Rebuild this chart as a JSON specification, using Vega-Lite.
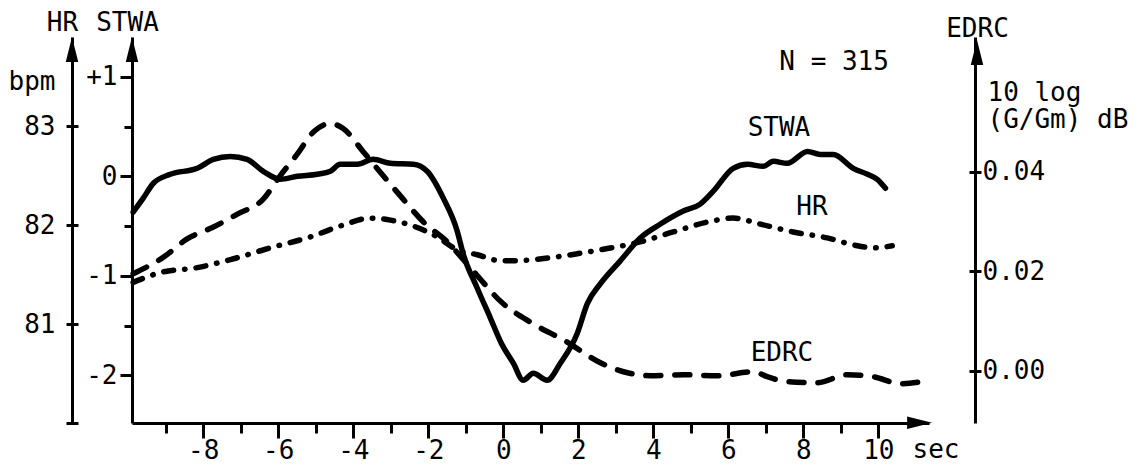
{
  "$schema": "https://vega.github.io/schema/vega-lite/v6.json",
  "width": 797,
  "height": 386,
  "autosize": {"type": "none"},
  "padding": {"left": 132, "top": 37, "right": 212, "bottom": 45},
  "background": "white",
  "config": {
    "view": {"stroke": null},
    "font": "DejaVu Sans Mono",
    "axis": {
      "grid": false,
      "domainColor": "black",
      "domainWidth": 3,
      "tickColor": "black",
      "tickWidth": 3,
      "labelColor": "black",
      "labelFont": "DejaVu Sans Mono",
      "labelFontSize": 26,
      "titleFont": "DejaVu Sans Mono",
      "titleFontSize": 26,
      "titleFontWeight": "normal",
      "titleColor": "black",
      "labelFlush": false,
      "labelOverlap": false
    }
  },
  "datasets": {
    "stwa": [
      {"t": -9.87, "v": -0.36}, {"t": -9.6, "v": -0.22}, {"t": -9.33, "v": -0.07}, {"t": -8.88, "v": 0.02},
      {"t": -8.16, "v": 0.08}, {"t": -7.73, "v": 0.17}, {"t": -7.28, "v": 0.2}, {"t": -6.83, "v": 0.17},
      {"t": -6.4, "v": 0.05}, {"t": -5.95, "v": -0.03}, {"t": -5.49, "v": 0.0}, {"t": -4.96, "v": 0.02},
      {"t": -4.61, "v": 0.05}, {"t": -4.35, "v": 0.12}, {"t": -3.89, "v": 0.12}, {"t": -3.47, "v": 0.17},
      {"t": -3.01, "v": 0.13}, {"t": -2.4, "v": 0.12}, {"t": -2.03, "v": 0.05}, {"t": -1.6, "v": -0.22},
      {"t": -1.23, "v": -0.55}, {"t": -1.07, "v": -0.78}, {"t": -0.7, "v": -1.12}, {"t": -0.35, "v": -1.42},
      {"t": -0.05, "v": -1.68}, {"t": 0.27, "v": -1.88}, {"t": 0.53, "v": -2.05}, {"t": 0.8, "v": -1.98},
      {"t": 1.17, "v": -2.05}, {"t": 1.52, "v": -1.88}, {"t": 1.97, "v": -1.58}, {"t": 2.24, "v": -1.28},
      {"t": 2.59, "v": -1.08}, {"t": 3.12, "v": -0.85}, {"t": 3.65, "v": -0.62}, {"t": 4.19, "v": -0.48},
      {"t": 4.8, "v": -0.35}, {"t": 5.25, "v": -0.28}, {"t": 5.6, "v": -0.15}, {"t": 6.13, "v": 0.08},
      {"t": 6.51, "v": 0.12}, {"t": 6.93, "v": 0.1}, {"t": 7.2, "v": 0.15}, {"t": 7.57, "v": 0.13},
      {"t": 8.11, "v": 0.25}, {"t": 8.45, "v": 0.22}, {"t": 8.8, "v": 0.22}, {"t": 9.33, "v": 0.08},
      {"t": 9.71, "v": 0.02}, {"t": 9.97, "v": -0.03}, {"t": 10.19, "v": -0.12}
    ],
    "hr": [
      {"t": -9.87, "v": 81.42}, {"t": -9.15, "v": 81.52}, {"t": -8.16, "v": 81.57}, {"t": -7.28, "v": 81.65},
      {"t": -6.21, "v": 81.77}, {"t": -5.15, "v": 81.88}, {"t": -4.27, "v": 82.0}, {"t": -3.55, "v": 82.07},
      {"t": -3.01, "v": 82.05}, {"t": -2.4, "v": 81.99}, {"t": -1.76, "v": 81.88}, {"t": -1.23, "v": 81.75},
      {"t": -0.69, "v": 81.7}, {"t": -0.08, "v": 81.64}, {"t": 0.27, "v": 81.64}, {"t": 1.25, "v": 81.67},
      {"t": 1.97, "v": 81.71}, {"t": 2.59, "v": 81.75}, {"t": 3.65, "v": 81.83}, {"t": 4.53, "v": 81.93},
      {"t": 5.44, "v": 82.03}, {"t": 6.13, "v": 82.07}, {"t": 6.85, "v": 82.01}, {"t": 7.73, "v": 81.93},
      {"t": 8.64, "v": 81.87}, {"t": 9.33, "v": 81.8}, {"t": 9.87, "v": 81.77}, {"t": 10.37, "v": 81.79}
    ],
    "edrc": [
      {"t": -9.87, "v": 0.0195}, {"t": -9.07, "v": 0.0228}, {"t": -8.43, "v": 0.0265}, {"t": -7.73, "v": 0.0289},
      {"t": -7.09, "v": 0.0315}, {"t": -6.4, "v": 0.0345}, {"t": -5.95, "v": 0.0392}, {"t": -5.49, "v": 0.0436},
      {"t": -5.05, "v": 0.0481}, {"t": -4.61, "v": 0.0497}, {"t": -4.27, "v": 0.0487}, {"t": -3.73, "v": 0.044},
      {"t": -3.2, "v": 0.0392}, {"t": -2.67, "v": 0.0345}, {"t": -2.13, "v": 0.0299}, {"t": -1.49, "v": 0.0259},
      {"t": -1.07, "v": 0.0224}, {"t": -0.61, "v": 0.0184}, {"t": -0.12, "v": 0.0143}, {"t": 0.76, "v": 0.0096},
      {"t": 1.65, "v": 0.006}, {"t": 2.59, "v": 0.0016}, {"t": 3.31, "v": -0.0004}, {"t": 3.92, "v": -0.001},
      {"t": 4.8, "v": -0.0008}, {"t": 5.71, "v": -0.001}, {"t": 6.67, "v": -0.0002}, {"t": 7.04, "v": -0.0012},
      {"t": 7.57, "v": -0.0022}, {"t": 8.37, "v": -0.0024}, {"t": 9.17, "v": -0.0008}, {"t": 9.87, "v": -0.0012},
      {"t": 10.59, "v": -0.0026}, {"t": 11.31, "v": -0.002}
    ],
    "labels": [
      {"t": 8.82, "v": 1.148, "label": "N = 315"},
      {"t": 7.35, "v": 0.49, "label": "STWA"},
      {"t": 8.23, "v": -0.31, "label": "HR"},
      {"t": 7.43, "v": -1.78, "label": "EDRC"}
    ],
    "arrows": [
      {"t": -9.9, "v": 1.274, "dir": "up"},
      {"t": -11.5, "v": 1.274, "dir": "up"},
      {"t": 12.63, "v": 1.244, "dir": "up"},
      {"t": 11.1, "v": -2.478, "dir": "right"}
    ]
  },
  "resolve": {
    "scale": {"y": "independent"},
    "axis": {"x": "independent", "y": "independent"}
  },
  "layer": [
    {
      "data": {"name": "stwa"},
      "mark": {"type": "line", "color": "black", "strokeWidth": 5.5, "interpolate": "monotone", "strokeCap": "round", "strokeJoin": "round"},
      "encoding": {
        "x": {
          "field": "t", "type": "quantitative",
          "scale": {"domain": [-9.9, 11.35], "nice": false, "zero": false},
          "axis": {
            "orient": "bottom",
            "values": [-9, -8, -7, -6, -5, -4, -3, -2, -1, 0, 1, 2, 3, 4, 5, 6, 7, 8, 9, 10],
            "tickSize": 15,
            "labelPadding": -1,
            "labelExpr": "datum.value % 2 === 0 ? '' + datum.value : ''",
            "title": "sec",
            "titleX": 780,
            "titleY": 34,
            "titleAlign": "left",
            "titleBaseline": "alphabetic",
            "encoding": {"ticks": {"y2": {"value": {"expr": "datum.value % 2 === 0 ? 15 : 10"}}}}
          }
        },
        "y": {
          "field": "v", "type": "quantitative",
          "scale": {"domain": [-2.48, 1.4], "nice": false, "zero": false},
          "axis": {
            "orient": "left",
            "offset": 0,
            "values": [-2, -1.5, -1, -0.5, 0, 0.5, 1],
            "tickSize": 12,
            "labelPadding": 3,
            "labelExpr": "datum.value === 1 ? '+1' : (datum.value % 1 === 0 ? '' + datum.value : '')",
            "title": "STWA",
            "titleAngle": 0,
            "titleX": -5,
            "titleY": -15,
            "titleAlign": "center",
            "titleBaseline": "middle",
            "encoding": {"ticks": {"x2": {"value": {"expr": "datum.value % 1 === 0 ? -12 : -8"}}}}
          }
        }
      }
    },
    {
      "data": {"name": "hr"},
      "mark": {"type": "line", "color": "black", "strokeWidth": 5.5, "interpolate": "monotone", "strokeCap": "round", "strokeJoin": "round", "strokeDash": [10, 11, 0.5, 11]},
      "encoding": {
        "x": {
          "field": "t", "type": "quantitative",
          "scale": {"domain": [-9.9, 11.35], "nice": false, "zero": false},
          "axis": {
            "orient": "top", "domain": false, "ticks": false, "labels": false,
            "title": "bpm", "titleX": -124, "titleY": 52, "titleAlign": "left", "titleBaseline": "alphabetic"
          }
        },
        "y": {
          "field": "v", "type": "quantitative",
          "scale": {"domain": [80, 83.9], "nice": false, "zero": false},
          "axis": {
            "orient": "left",
            "offset": 60,
            "values": [80, 81, 82, 83],
            "tickSize": 6,
            "labelPadding": 11,
            "labelExpr": "datum.value === 80 ? '' : datum.label",
            "title": "HR",
            "titleAngle": 0,
            "titleX": -10,
            "titleY": -15,
            "titleAlign": "center",
            "titleBaseline": "middle",
            "encoding": {"ticks": {"x": {"value": 6}}}
          }
        }
      }
    },
    {
      "data": {"name": "edrc"},
      "mark": {"type": "line", "color": "black", "strokeWidth": 5.5, "interpolate": "monotone", "strokeCap": "round", "strokeJoin": "round", "strokeDash": [15, 14]},
      "encoding": {
        "x": {
          "field": "t", "type": "quantitative",
          "scale": {"domain": [-9.9, 11.35], "nice": false, "zero": false},
          "axis": {
            "orient": "top", "domain": false, "ticks": false, "labels": false,
            "title": ["10 log", "(G/Gm) dB"], "titleX": 855, "titleY": 63, "titleAlign": "left", "titleBaseline": "alphabetic", "titleLineHeight": 27
          }
        },
        "y": {
          "field": "v", "type": "quantitative",
          "scale": {"domain": [-0.0105, 0.0671], "nice": false, "zero": false},
          "axis": {
            "orient": "right",
            "offset": 46,
            "values": [0, 0.02, 0.04],
            "format": ".2f",
            "tickSize": 6,
            "labelPadding": 1,
            "title": "EDRC",
            "titleAngle": 0,
            "titleX": 2,
            "titleY": -9,
            "titleAlign": "center",
            "titleBaseline": "middle",
            "encoding": {"ticks": {"x": {"value": -6}}}
          }
        }
      }
    },
    {
      "data": {"name": "labels"},
      "mark": {"type": "text", "font": "DejaVu Sans Mono", "fontSize": 26, "color": "black", "align": "center", "baseline": "middle"},
      "encoding": {
        "x": {"field": "t", "type": "quantitative", "scale": {"domain": [-9.9, 11.35], "nice": false, "zero": false}, "axis": null},
        "y": {"field": "v", "type": "quantitative", "scale": {"domain": [-2.48, 1.4], "nice": false, "zero": false}, "axis": null},
        "text": {"field": "label", "type": "nominal"}
      }
    },
    {
      "data": {"name": "arrows"},
      "mark": {"type": "point", "filled": true, "color": "black", "opacity": 1, "size": 625, "strokeWidth": 0},
      "encoding": {
        "x": {"field": "t", "type": "quantitative", "scale": {"domain": [-9.9, 11.35], "nice": false, "zero": false}, "axis": null},
        "y": {"field": "v", "type": "quantitative", "scale": {"domain": [-2.48, 1.4], "nice": false, "zero": false}, "axis": null},
        "shape": {
          "field": "dir", "type": "nominal",
          "scale": {"domain": ["up", "right"], "range": ["M0,-1L0.5,1L-0.5,1Z", "M1,0L-1,0.5L-1,-0.5Z"]},
          "legend": null
        }
      }
    }
  ]
}
